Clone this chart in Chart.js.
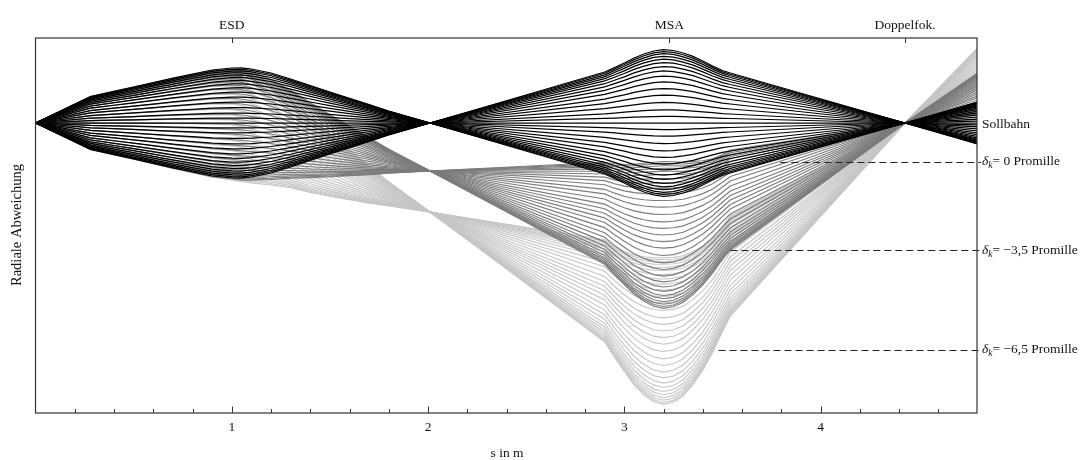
<!DOCTYPE html>
<html>
<head>
<meta charset="utf-8">
<script src="https://cdn.jsdelivr.net/npm/chart.js@4/dist/chart.umd.min.js"></script>
<style>
  html, body { margin: 0; padding: 0; background: #fff; }
  #wrap { width: 1085px; height: 460px; position: relative; }
</style>
</head>
<body>
<div id="wrap"><canvas id="chart"></canvas></div>
<script>
// s positions along the beam line (m)
const S = [0, 0.28, 0.4, 0.5, 0.6, 0.7, 0.8, 0.9, 1.0, 1.05, 1.1, 1.2, 1.3, 1.4, 1.5, 1.6, 1.7, 1.8,
  2.01, 2.9, 2.95, 3.0, 3.05, 3.1, 3.15, 3.2, 3.25, 3.3, 3.35, 3.4, 3.45, 3.5, 3.54, 4.43, 4.8];
const F0 = [0, 26.5, 31.7, 36, 40.4, 44.8, 49, 53, 55, 55.2, 54, 50, 44, 37.5, 31, 24.7, 18.4, 12,
  0, -51, -55.5, -60, -65, -69, -72, -73.3, -72.5, -70, -66.6, -62, -57, -52.5, -50, 0, 21];
// shift per promille momentum deviation
const D = [0, 0, 0, 0.02, 0.05, 0.08, 0.12, 0.18, 0.3, 0.55, 0.9, 1.85, 3.2, 4.9, 6.5, 8.0, 9.5, 10.9,
  13.7, 25.8, 27.5, 29, 30.3, 31.2, 31.8, 32, 31.8, 31.2, 30, 28.5, 26.5, 24, 22, 0, -8.3];
// start angles of the rays, as fraction of the outermost one
const AMPS = [1.0, 0.975, 0.945, 0.91, 0.87, 0.825, 0.77, 0.71, 0.64, 0.56, 0.47, 0.38, 0.28, 0.18, 0.09, 0,
  -0.09, -0.18, -0.28, -0.38, -0.47, -0.56, -0.64, -0.71, -0.77, -0.825, -0.87, -0.91, -0.945, -0.975, -1.0];
const DELTAS = [0, -3.5, -6.5];
const DELTA_TEXT = ['0', '\u22123,5', '\u22126,5'];
const DELTA_LABEL_Y = [-38.5, -127, -226.5];
const DASH_FROM = [3.795, 3.54, 3.48];

const X_MAJOR = [1, 2, 3, 4];
const X_MINOR = [0.2, 0.4, 0.6, 0.8, 1.2, 1.4, 1.6, 1.8, 2.2, 2.4, 2.6, 2.8, 3.2, 3.4, 3.6, 3.8, 4.2, 4.4, 4.6];
const TOP_MARKS = [1, 3.23, 4.43];
const TOP_LABELS = ['ESD', 'MSA', 'Doppelfok.'];

const familyColors = ['#000000', '#7c7c7c', '#c6c6c6'];
const familyWidths = [1.25, 1.15, 1.15];
const FONT = '"Liberation Serif", "DejaVu Serif", serif';

const datasets = [];
DELTAS.forEach((delta, f) => {
  AMPS.forEach(a => {
    datasets.push({
      data: S.map((s, i) => ({ x: s, y: a * F0[i] + delta * D[i] })),
      borderColor: familyColors[f],
      borderWidth: familyWidths[f],
      pointRadius: 0,
      tension: 0,
      fill: false
    });
  });
});

const decor = {
  id: 'decor',
  afterDraw(chart) {
    const ctx = chart.ctx;
    const xs = chart.scales.x, ys = chart.scales.y;
    const area = chart.chartArea;
    ctx.save();

    // dashed reference lines
    ctx.strokeStyle = '#222';
    ctx.lineWidth = 1;
    ctx.setLineDash([7, 4]);
    DELTA_LABEL_Y.forEach((v, i) => {
      const y = Math.round(ys.getPixelForValue(v)) + 0.5;
      ctx.beginPath();
      ctx.moveTo(xs.getPixelForValue(DASH_FROM[i]), y);
      ctx.lineTo(area.right + 4, y);
      ctx.stroke();
    });
    ctx.setLineDash([]);

    // frame
    ctx.strokeStyle = '#333';
    ctx.lineWidth = 1.2;
    ctx.strokeRect(area.left, area.top, area.right - area.left, area.bottom - area.top);

    // ticks, pointing inward
    ctx.lineWidth = 1;
    ctx.beginPath();
    X_MINOR.forEach(v => {
      const x = Math.round(xs.getPixelForValue(v)) + 0.5;
      ctx.moveTo(x, area.bottom); ctx.lineTo(x, area.bottom - 4);
    });
    X_MAJOR.forEach(v => {
      const x = Math.round(xs.getPixelForValue(v)) + 0.5;
      ctx.moveTo(x, area.bottom); ctx.lineTo(x, area.bottom - 6.5);
    });
    TOP_MARKS.forEach(v => {
      const x = Math.round(xs.getPixelForValue(v)) + 0.5;
      ctx.moveTo(x, area.top); ctx.lineTo(x, area.top + 5);
    });
    ctx.stroke();

    ctx.fillStyle = '#111';
    ctx.font = '13.5px ' + FONT;
    ctx.textAlign = 'center';
    ctx.textBaseline = 'middle';
    X_MAJOR.forEach(v => ctx.fillText(String(v), xs.getPixelForValue(v), area.bottom + 14));
    TOP_LABELS.forEach((t, i) => ctx.fillText(t, xs.getPixelForValue(TOP_MARKS[i]), 25));
    ctx.fillText('s in m', 507, 453);

    // y title
    ctx.save();
    ctx.translate(17, 225);
    ctx.rotate(-Math.PI / 2);
    ctx.font = '14.5px ' + FONT;
    ctx.fillText('Radiale Abweichung', 0, 0);
    ctx.restore();

    // right labels
    ctx.textAlign = 'left';
    const lx = area.right + 5;
    ctx.fillText('Sollbahn', lx, ys.getPixelForValue(0) + 1);
    DELTA_LABEL_Y.forEach((v, i) => {
      const y = ys.getPixelForValue(v);
      let x = lx;
      ctx.font = 'italic 13.5px ' + FONT;
      ctx.fillText('\u03b4', x, y);
      x += ctx.measureText('\u03b4').width;
      ctx.font = 'italic 9.5px ' + FONT;
      ctx.fillText('k', x, y + 4);
      x += ctx.measureText('k').width;
      ctx.font = '13.5px ' + FONT;
      ctx.fillText('= ' + DELTA_TEXT[i] + ' Promille', x, y);
    });
    ctx.restore();
  }
};

new Chart(document.getElementById('chart'), {
  type: 'line',
  data: { datasets },
  options: {
    responsive: true,
    maintainAspectRatio: false,
    animation: false,
    layout: { padding: { left: 35.5, top: 38, right: 108, bottom: 47 } },
    scales: {
      x: { type: 'linear', min: 0, max: 4.797, display: false },
      y: { type: 'linear', min: -290, max: 85, display: false }
    },
    plugins: { legend: { display: false }, tooltip: { enabled: false } }
  },
  plugins: [decor]
});
</script>
</body>
</html>
